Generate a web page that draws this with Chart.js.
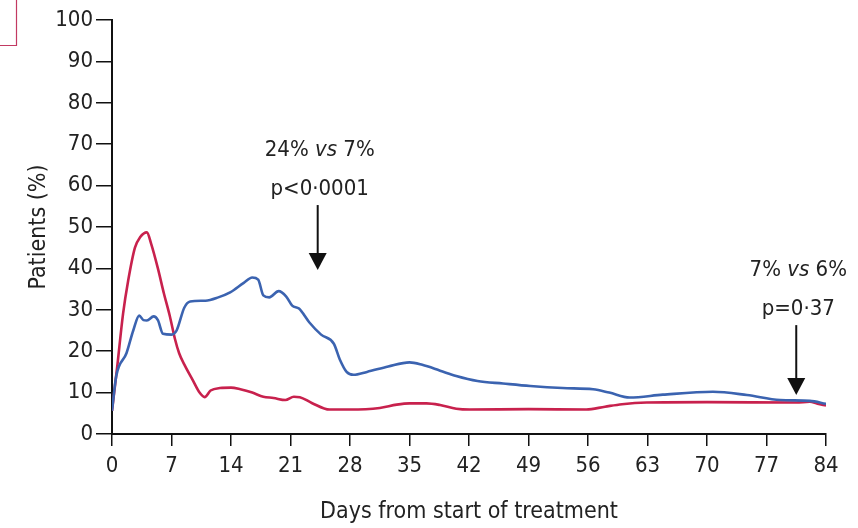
<!DOCTYPE html>
<html>
<head>
<meta charset="utf-8">
<script src="https://cdn.jsdelivr.net/npm/chart.js@4/dist/chart.umd.min.js"></script>
<style>
  html, body { margin: 0; padding: 0; background: #fff; }
</style>
</head>
<body>
<canvas id="myChart" width="858" height="528"></canvas>
<script>
// days and % of patients
var blueDays = [0, 0.5, 1.7, 2.5, 3.2, 3.7, 4.1, 4.9, 5.4, 6.0, 7.0, 7.6, 8.5, 9.2, 11, 12.5, 13.9, 15.5, 16.5, 17.2, 17.8, 18.5, 19.6, 20.5, 21.2, 22, 23.2, 24.6, 26.1, 26.8, 27.6, 28.4, 30, 32.5, 35, 36.5, 38.6, 40.5, 43, 46, 49.2, 53, 56.6, 58.5, 60.9, 64.8, 70.7, 74.7, 78.6, 82.1, 84];
var blueVals = [5.6, 14, 19.5, 25, 28.6, 27.5, 27.4, 28.4, 27.5, 24.2, 24.0, 25, 30.5, 32, 32.2, 33, 34.2, 36.5, 37.8, 37.3, 33.5, 33, 34.5, 33.2, 31, 30.3, 27, 24, 21.8, 18, 15, 14.3, 15, 16.3, 17.3, 16.7, 15.3, 14, 12.8, 12.2, 11.6, 11.1, 10.8, 10, 8.8, 9.5, 10.2, 9.4, 8.2, 8.0, 7.3];

var redDays = [0, 0.6, 1.3, 1.9, 2.7, 3.3, 4.1, 4.6, 5.4, 6.1, 6.8, 7.4, 7.9, 8.5, 9.5, 10.3, 10.9, 11.6, 12.7, 14, 15.1, 16.5, 17.8, 19, 20.4, 21.4, 22.1, 23.5, 25.6, 28, 31.5, 33.5, 35, 37, 38.6, 40.5, 42.1, 49, 55.8, 58, 60, 62.9, 70, 80.5, 82.1, 83, 84];
var redVals = [5.6, 16, 29, 37, 45, 47.5, 48.7, 46, 40, 34, 28.5, 23, 19.5, 16.8, 13, 10, 8.9, 10.5, 11.1, 11.2, 10.8, 10, 9.0, 8.7, 8.2, 9.0, 8.9, 7.5, 5.9, 5.9, 6.3, 7.1, 7.4, 7.4, 7.0, 6.1, 5.9, 6.0, 5.9, 6.6, 7.2, 7.6, 7.7, 7.6, 7.8, 7.3, 6.9];

var xTicks = [0, 7, 14, 21, 28, 35, 42, 49, 56, 63, 70, 77, 84];
var yTicks = [0, 10, 20, 30, 40, 50, 60, 70, 80, 90, 100];

// arrow notes: day, first line (middle word italic), second line, arrow top / tip in % units
var notes = [
  { day: 24.2, line1: ["24%", "vs", "7%"], line2: "p<0·0001", top: 55.3, tip: 39.6 },
  { day: 80.5, line1: ["7%", "vs", "6%"], line2: "p=0·37", top: 26.3, tip: 9.4 }
];

var FONT = "'DejaVu Sans Condensed', 'Liberation Sans Narrow', sans-serif";

function pts(xs, ys) {
  return xs.map(function (d, i) { return { x: d, y: ys[i] }; });
}

var extras = {
  id: "extras",
  afterDraw: function (chart) {
    var ctx = chart.ctx;
    var xs = chart.scales.x, ys = chart.scales.y;
    ctx.save();
    // clipped panel box in the corner
    ctx.strokeStyle = "#c23a62";
    ctx.lineWidth = 1.2;
    ctx.beginPath();
    ctx.moveTo(0, 45.5); ctx.lineTo(16.5, 45.5); ctx.lineTo(16.5, 0);
    ctx.stroke();

    notes.forEach(function (n) {
      var px = xs.getPixelForValue(n.day);
      var yTop = ys.getPixelForValue(n.top);
      var yTip = ys.getPixelForValue(n.tip);
      ctx.strokeStyle = "#111";
      ctx.fillStyle = "#111";
      ctx.lineWidth = 2;
      ctx.beginPath();
      ctx.moveTo(px, yTop); ctx.lineTo(px, yTip - 14);
      ctx.stroke();
      ctx.beginPath();
      ctx.moveTo(px - 9, yTip - 17); ctx.lineTo(px + 9, yTip - 17); ctx.lineTo(px, yTip);
      ctx.closePath(); ctx.fill();

      // text
      ctx.textBaseline = "alphabetic";
      ctx.fillStyle = "#222";
      var fN = "22px " + FONT, fI = "italic 22px " + FONT;
      ctx.font = fN;
      var w0 = ctx.measureText(n.line1[0] + " ").width;
      var w2 = ctx.measureText(" " + n.line1[2]).width;
      ctx.font = fI;
      var w1 = ctx.measureText(n.line1[1]).width;
      var total = w0 + w1 + w2;
      var x0 = px - total / 2 + 2;
      var yl1 = yTop - 49;
      ctx.textAlign = "left";
      ctx.font = fN; ctx.fillText(n.line1[0] + " ", x0, yl1);
      ctx.font = fI; ctx.fillText(n.line1[1], x0 + w0, yl1);
      ctx.font = fN; ctx.fillText(" " + n.line1[2], x0 + w0 + w1, yl1);
      ctx.textAlign = "center";
      ctx.fillText(n.line2, px + 2, yTop - 10);
    });
    ctx.restore();
  }
};

new Chart("myChart", {
  type: "line",
  data: {
    datasets: [
      {
        data: pts(blueDays, blueVals),
        borderColor: "#3b63b0",
        borderWidth: 2.6,
        pointRadius: 0,
        fill: false,
        cubicInterpolationMode: "monotone"
      },
      {
        data: pts(redDays, redVals),
        borderColor: "#c8214d",
        borderWidth: 2.6,
        pointRadius: 0,
        fill: false,
        cubicInterpolationMode: "monotone"
      }
    ]
  },
  options: {
    responsive: false,
    animation: false,
    devicePixelRatio: 1,
    layout: { padding: { top: 20, right: 32, bottom: 2, left: 25 } },
    plugins: { legend: { display: false }, tooltip: { enabled: false } },
    scales: {
      x: {
        type: "linear",
        min: 0,
        max: 84,
        afterBuildTicks: function (s) { s.ticks = xTicks.map(function (v) { return { value: v }; }); },
        afterFit: function (s) { s.height = 92; },
        grid: { drawOnChartArea: false, tickLength: 12, color: "#111", lineWidth: 1.5 },
        border: { color: "#111", width: 2 },
        ticks: { color: "#222", font: { family: FONT, size: 22 }, padding: 7, maxRotation: 0 },
        title: { display: true, text: "Days from start of treatment", color: "#222", font: { family: FONT, size: 23 }, padding: { top: 12, bottom: 0 } }
      },
      y: {
        min: 0,
        max: 100,
        afterBuildTicks: function (s) { s.ticks = yTicks.map(function (v) { return { value: v }; }); },
        afterFit: function (s) { s.width = 87; },
        grid: { drawOnChartArea: false, tickLength: 16, color: "#111", lineWidth: 1.5 },
        border: { color: "#111", width: 2 },
        ticks: { color: "#222", font: { family: FONT, size: 22 }, padding: 3 },
        title: { display: true, text: "Patients (%)", color: "#222", font: { family: FONT, size: 23 }, padding: { top: 0, bottom: 0 } }
      }
    }
  },
  plugins: [extras]
});
</script>
</body>
</html>
